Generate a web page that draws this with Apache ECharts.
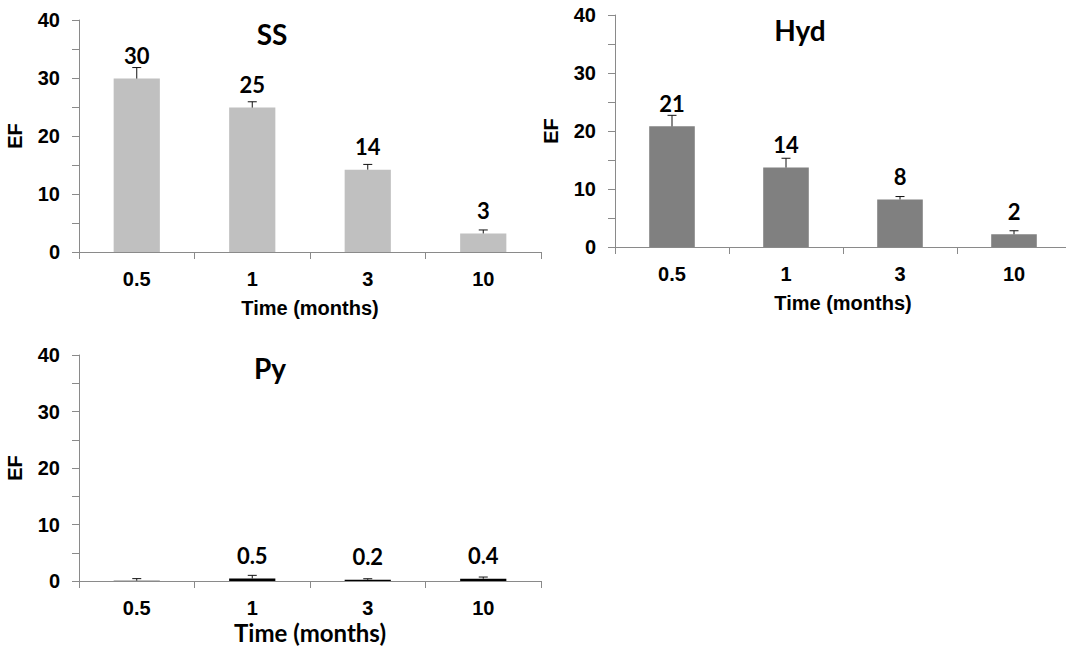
<!DOCTYPE html>
<html>
<head>
<meta charset="utf-8">
<script src="https://cdn.jsdelivr.net/npm/echarts@6/dist/echarts.min.js"></script>
<style>
html,body{margin:0;padding:0;background:#fff;}
#c{width:1066px;height:654px;}
</style>
</head>
<body>
<div id="c"></div>
<script>
// ---- data ----
const categories = ['0.5', '1', '3', '10'];
const yTicks = [0, 10, 20, 30, 40];

const ssValues = [29.9, 24.9, 14.2, 3.2];
const ssErrors = [1.9, 1.0, 0.9, 0.6];
const ssLabels = ['30', '25', '14', '3'];

const hydValues = [20.8, 13.7, 8.2, 2.2];
const hydErrors = [1.9, 1.6, 0.5, 0.6];
const hydLabels = ['21', '14', '8', '2'];

const pyValues = [0.05, 0.45, 0.2, 0.4];
const pyErrors = [0.37, 0.55, 0.2, 0.3];
const pyLabels = ['', '0.5', '0.2', '0.4'];

const panelTitles = ['SS', 'Hyd', 'Py'];
const xName = 'Time (months)';
const yName = 'EF';

// ---- layout / style ----
const grids = [
  {left: 79, top: 20, width: 462, height: 232},
  {left: 615, top: 15, width: 456, height: 232},
  {left: 79, top: 355, width: 462, height: 226}
];
const barColors = ['#c0c0c0', '#808080', '#000000'];
const axisColor = '#8a8a8a';
const arial = "'Liberation Sans', Arial, sans-serif";
const calibri = "Lato, 'Noto Sans', sans-serif";

const panels = [
  {v: ssValues, e: ssErrors, l: ssLabels, xNameFont: arial, xNameSize: 20, xNameGap: 46},
  {v: hydValues, e: hydErrors, l: hydLabels, xNameFont: arial, xNameSize: 20, xNameGap: 46},
  {v: pyValues, e: pyErrors, l: pyLabels, xNameFont: calibri, xNameSize: 24, xNameGap: 39}
];

const option = {
  animation: false,
  backgroundColor: '#fff',
  grid: grids.map(g => Object.assign({outerBoundsMode: 'none', containLabel: false}, g)),
  xAxis: panels.map((p, i) => ({
    type: 'category',
    gridIndex: i,
    data: categories,
    boundaryGap: true,
    axisLine: {show: true, lineStyle: {color: axisColor, width: 1}},
    axisTick: {show: true, length: 7, alignWithLabel: false, lineStyle: {color: axisColor}},
    axisLabel: {color: '#000', fontFamily: arial, fontWeight: 'bold', fontSize: 20, margin: 17},
    name: xName,
    nameLocation: 'middle',
    nameGap: p.xNameGap,
    nameTextStyle: {color: '#000', fontFamily: p.xNameFont, fontWeight: 'bold', fontSize: p.xNameSize},
    splitLine: {show: false}
  })),
  yAxis: panels.map((p, i) => ({
    type: 'value',
    gridIndex: i,
    min: yTicks[0],
    max: yTicks[yTicks.length - 1],
    interval: 5,
    axisLine: {show: true, lineStyle: {color: axisColor, width: 1}},
    axisTick: {show: true, length: 7, lineStyle: {color: axisColor}},
    axisLabel: {
      color: '#000', fontFamily: arial, fontWeight: 'bold', fontSize: 20, margin: 19,
      formatter: v => (yTicks.indexOf(v) >= 0 ? String(v) : '')
    },
    splitLine: {show: false},
    name: yName,
    nameLocation: 'middle',
    nameRotate: 90,
    nameGap: 54,
    nameTextStyle: {color: '#000', fontFamily: arial, fontWeight: 'bold', fontSize: 20}
  })),
  series: []
};

panels.forEach((p, i) => {
  option.series.push({
    type: 'bar',
    xAxisIndex: i,
    yAxisIndex: i,
    data: p.v,
    barWidth: '40%',
    itemStyle: {color: barColors[i]},
    label: {
      show: true,
      position: 'top',
      distance: 12,
      color: '#000',
      fontFamily: calibri,
      fontWeight: 'bold',
      fontSize: 22,
      formatter: params => p.l[params.dataIndex]
    },
    z: 2
  });
  option.series.push({
    type: 'custom',
    xAxisIndex: i,
    yAxisIndex: i,
    data: p.v.map((v, k) => [k, v, p.e[k]]),
    encode: {x: 0, y: 1},
    z: 3,
    renderItem: function (params, api) {
      const k = api.value(0), v = api.value(1), e = api.value(2);
      const a = api.coord([k, v]);
      const b = api.coord([k, v + e]);
      const hw = 4.5;
      const st = {stroke: '#111', lineWidth: 1};
      return {
        type: 'group',
        children: [
          {type: 'line', shape: {x1: a[0], y1: a[1], x2: b[0], y2: b[1]}, style: st},
          {type: 'line', shape: {x1: b[0] - hw, y1: b[1], x2: b[0] + hw, y2: b[1]}, style: st}
        ]
      };
    }
  });
});

option.graphic = [
  {type: 'text', x: 272, y: 34, style: {text: panelTitles[0], font: "bold 28px " + calibri, fill: '#000', align: 'center', verticalAlign: 'middle'}},
  {type: 'text', x: 800, y: 30, style: {text: panelTitles[1], font: "bold 28px " + calibri, fill: '#000', align: 'center', verticalAlign: 'middle'}},
  {type: 'text', x: 270, y: 368, style: {text: panelTitles[2], font: "bold 28px " + calibri, fill: '#000', align: 'center', verticalAlign: 'middle'}}
];

const chart = echarts.init(document.getElementById('c'), null, {renderer: 'svg', width: 1066, height: 654});
chart.setOption(option);
</script>
</body>
</html>
